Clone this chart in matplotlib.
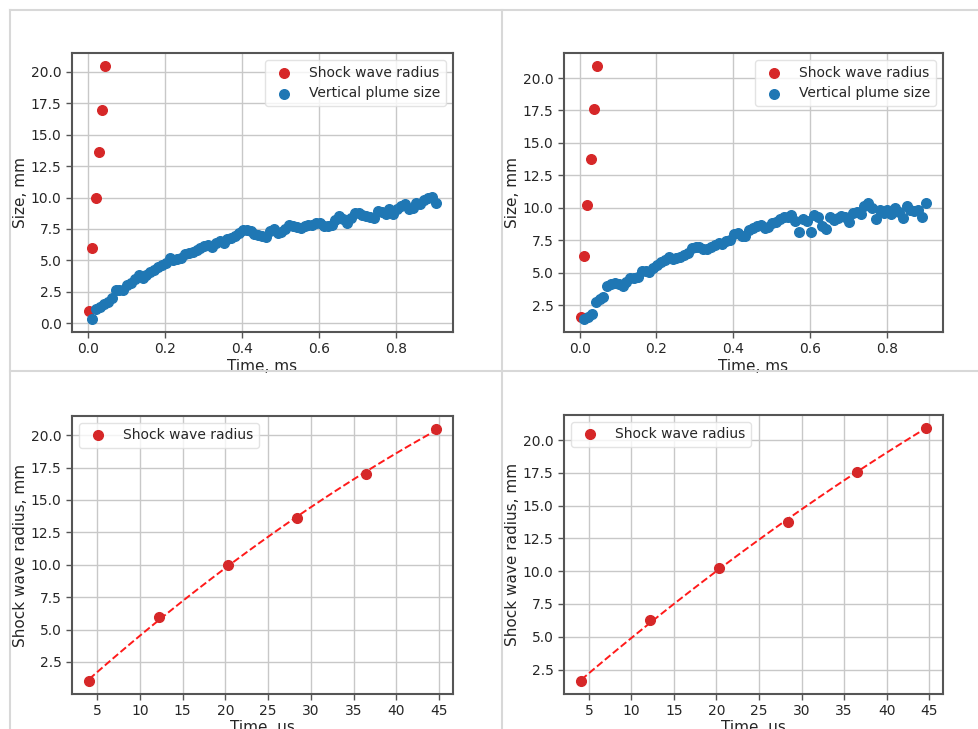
import numpy as np
import matplotlib
matplotlib.use("Agg")
import matplotlib.pyplot as plt
from matplotlib.lines import Line2D

# ---------------- data ----------------
shock_time_us = [4.1, 12.2, 20.3, 28.4, 36.5, 44.6]
shock_time_ms = [0.0041, 0.0122, 0.0203, 0.0284, 0.0365, 0.0446]
shock_radius_a = [1.0, 6.0, 9.95, 13.6, 17.0, 20.5]
shock_radius_b = [1.6, 6.25, 10.25, 13.75, 17.6, 20.95]

plume_time_ms = [
    0.012, 0.022, 0.032, 0.042, 0.052, 0.062, 0.072, 0.082, 0.092, 0.102,
    0.112, 0.122, 0.132, 0.142, 0.152, 0.162, 0.172, 0.182, 0.192, 0.202,
    0.212, 0.222, 0.232, 0.242, 0.252, 0.262, 0.272, 0.282, 0.292, 0.302,
    0.312, 0.322, 0.332, 0.342, 0.352, 0.362, 0.372, 0.382, 0.392, 0.402,
    0.412, 0.422, 0.432, 0.442, 0.452, 0.462, 0.472, 0.482, 0.492, 0.502,
    0.512, 0.522, 0.532, 0.542, 0.552, 0.562, 0.572, 0.582, 0.592, 0.602,
    0.612, 0.622, 0.632, 0.642, 0.652, 0.662, 0.672, 0.682, 0.692, 0.702,
    0.712, 0.722, 0.732, 0.742, 0.752, 0.762, 0.772, 0.782, 0.792, 0.802,
    0.812, 0.822, 0.832, 0.842, 0.852, 0.862, 0.872, 0.882, 0.892, 0.902,
]
plume_size_a = [
    0.3, 1.1, 1.3, 1.5, 1.7, 2.0, 2.65, 2.6, 2.6, 3.0,
    3.2, 3.5, 3.85, 3.6, 3.85, 4.05, 4.25, 4.45, 4.65, 4.75,
    5.2, 5.05, 5.1, 5.2, 5.5, 5.6, 5.7, 5.85, 6.0, 6.1,
    6.25, 6.05, 6.4, 6.5, 6.35, 6.7, 6.8, 6.9, 7.2, 7.4,
    7.45, 7.3, 7.1, 7.0, 6.95, 6.85, 7.3, 7.5, 7.2, 7.25,
    7.5, 7.85, 7.75, 7.65, 7.6, 7.7, 7.8, 7.85, 8.0, 8.0,
    7.75, 7.7, 7.85, 8.2, 8.5, 8.3, 8.0, 8.4, 8.75, 8.8,
    8.6, 8.5, 8.45, 8.4, 8.9, 8.85, 8.7, 9.05, 8.7, 9.1,
    9.3, 9.45, 9.1, 9.2, 9.6, 9.45, 9.8, 10.0, 10.05, 9.6,
]
plume_size_b = [
    1.4, 1.55, 1.8, 2.7, 2.95, 3.1, 3.95, 4.15, 4.2, 4.1,
    4.0, 4.3, 4.6, 4.55, 4.7, 5.15, 5.1, 5.05, 5.35, 5.6,
    5.8, 6.0, 6.2, 6.05, 6.15, 6.2, 6.35, 6.55, 6.9, 7.0,
    6.95, 6.8, 6.85, 6.95, 7.1, 7.3, 7.2, 7.4, 7.55, 7.95,
    8.05, 7.8, 7.85, 8.25, 8.45, 8.6, 8.7, 8.45, 8.5, 8.85,
    8.9, 9.1, 9.25, 9.3, 9.45, 9.0, 8.1, 9.1, 8.95, 8.15,
    9.45, 9.3, 8.6, 8.35, 9.3, 9.05, 9.2, 9.35, 9.25, 8.9,
    9.6, 9.65, 9.55, 10.1, 10.35, 10.0, 9.1, 9.8, 9.6, 9.85,
    9.5, 9.95, 9.7, 9.2, 10.15, 9.85, 9.75, 9.8, 9.3, 10.35,
]

# ---------------- style ----------------
TXT = '#262626'
SPINE = '#555555'
GRID = '#c8c8c8'
RED = '#d62728'
BLUE = '#1f77b4'

plt.rcParams['font.family'] = ['DejaVu Sans']
plt.rcParams['text.color'] = TXT
plt.rcParams['axes.labelcolor'] = TXT
plt.rcParams['xtick.color'] = SPINE
plt.rcParams['ytick.color'] = SPINE
plt.rcParams['xtick.labelcolor'] = TXT
plt.rcParams['ytick.labelcolor'] = TXT

fig = plt.figure(figsize=(9.79, 7.29), dpi=100)
W, H = 979, 729

def axes_px(x0, y0, x1, y1):
    return fig.add_axes([x0 / W, 1 - y1 / H, (x1 - x0) / W, (y1 - y0) / H])

def style(ax):
    ax.grid(True, color=GRID, linewidth=1.0)
    ax.set_axisbelow(True)
    for s in ax.spines.values():
        s.set_color(SPINE)
        s.set_linewidth(1.5)
    ax.tick_params(labelsize=10, width=1.0, length=4)

ax_tl = axes_px(72, 53, 453, 332)
ax_tr = axes_px(564, 53, 943, 332)
ax_bl = axes_px(72, 416, 453, 694)
ax_br = axes_px(564, 415, 943, 694)

for ax, shock, plume in [(ax_tl, shock_radius_a, plume_size_a),
                         (ax_tr, shock_radius_b, plume_size_b)]:
    style(ax)
    ax.scatter(shock_time_ms, shock, s=48, color=RED, label='Shock wave radius', zorder=2)
    ax.scatter(plume_time_ms, plume, s=48, color=BLUE, label='Vertical plume size', zorder=2)
    ax.set_xlabel('Time, ms', fontsize=11, labelpad=2)
    ax.set_ylabel('Size, mm', fontsize=11, labelpad=2)
    ax.legend(loc='upper right', fontsize=10, framealpha=0.8, edgecolor='#dddddd')

for ax, shock in [(ax_bl, shock_radius_a), (ax_br, shock_radius_b)]:
    style(ax)
    coef = np.polyfit(shock_time_us, shock, 2)
    tt = np.linspace(min(shock_time_us), max(shock_time_us), 100)
    ax.plot(shock_time_us, shock, 'o', color=RED, markersize=7, label='Shock wave radius', zorder=3)
    ax.plot(tt, np.polyval(coef, tt), '--', color='#ff1a1a', linewidth=1.4, zorder=2)
    ax.set_xticks([5, 10, 15, 20, 25, 30, 35, 40, 45])
    ax.set_xlabel('Time, us', fontsize=11, labelpad=1)
    ax.set_ylabel('Shock wave radius, mm', fontsize=11, labelpad=2)
    ax.legend(loc='upper left', fontsize=10, framealpha=0.8, edgecolor='#dddddd')

# cell borders of the notebook-like grid
bc = '#d8d8d8'
for xs, ys in [((10, 979), (10, 10)), ((10, 10), (10, 729)),
               ((502, 502), (10, 729)), ((10, 979), (371, 371))]:
    fig.add_artist(Line2D([x / W for x in xs], [1 - y / H for y in ys],
                          transform=fig.transFigure, color=bc, linewidth=1.5))

fig.savefig('out.png', dpi=100)
